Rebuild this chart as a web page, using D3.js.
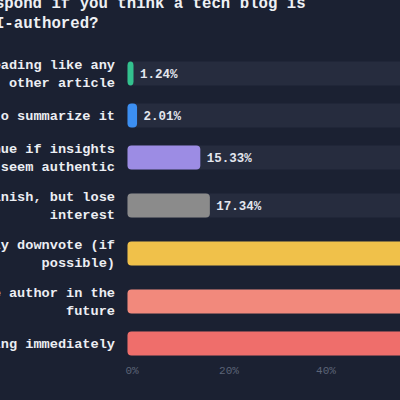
<!DOCTYPE html>
<html>
<head>
<meta charset="utf-8">
<script src="https://cdn.jsdelivr.net/npm/d3@7"></script>
<style>
  html, body { margin: 0; padding: 0; background: #1b2132; overflow: hidden; }
  svg { display: block; }
</style>
</head>
<body>
<svg id="chart" width="400" height="400"></svg>
<script>
// survey answers, top to bottom
const categories = [
  'Keep reading like any\nother article',
  'Use AI to summarize it',
  'Continue if insights\nseem authentic',
  'Try to finish, but lose\ninterest',
  'Immediately downvote (if\npossible)',
  'Avoid the author in the\nfuture',
  'Stop reading immediately'
];
const values = [1.24, 2.01, 15.33, 17.34, 60.1, 63.9, 68.6];
const barColors = ['#33c18e', '#3c8ff2', '#9c8ce4', '#8b8b8b', '#f0c14a', '#f2897c', '#ef6e6b'];
const tickValues = [0, 20, 40, 60, 80, 100];
const titleLines = ['How do you typically respond if you think a tech blog is', 'AI-authored?'];

const svg = d3.select('#chart');
const mono = '"Liberation Mono", "Courier New", monospace';

// title
svg.append('g').selectAll('text').data(titleLines).join('text')
  .attr('x', 42)
  .attr('y', (d, i) => 8 + i * 19.5)
  .attr('text-anchor', 'middle')
  .attr('fill', '#eef0f4')
  .attr('font-family', mono)
  .attr('font-weight', 'bold')
  .attr('font-size', '15.7px')
  .text(d => d);

const x = d3.scaleLinear().domain([0, 100]).range([127.5, 602.5]);

// rows grow with the number of label lines (like a flex list)
const lineCount = categories.map(c => c.split('\n').length);
const rowH = lineCount.map(n => n > 1 ? 36 : 24);
const gap = 12;
const rowTop = [];
rowH.reduce((acc, h, i) => { rowTop[i] = acc; return acc + h + gap; }, 55.5);
const rowMid = rowTop.map((t, i) => t + rowH[i] / 2);
const barH = 24;

const rows = svg.append('g').selectAll('g.row')
  .data(categories.map((c, i) => ({ label: c, value: values[i], color: barColors[i], mid: rowMid[i] })))
  .join('g').classed('row', true);

// background track
rows.append('rect')
  .attr('x', x(0))
  .attr('y', d => d.mid - barH / 2)
  .attr('width', x(100) - x(0))
  .attr('height', barH)
  .attr('rx', 4)
  .attr('fill', '#262c3e');

rows.append('rect')
  .attr('x', x(0))
  .attr('y', d => d.mid - barH / 2)
  .attr('width', d => Math.max(6, x(d.value) - x(0)))
  .attr('height', barH)
  .attr('rx', 4)
  .attr('fill', d => d.color);

rows.append('text')
  .attr('x', d => x(0) + Math.max(6, x(d.value) - x(0)) + 6.5)
  .attr('y', d => d.mid)
  .attr('dy', '0.35em')
  .attr('fill', '#e3e6ee')
  .attr('font-family', mono)
  .attr('font-weight', 'bold')
  .attr('font-size', '12.5px')
  .text(d => d.value.toFixed(2) + '%');

// category labels, right aligned
rows.each(function (d) {
  const lines = d.label.split('\n');
  const lh = 17.7;
  const t = d3.select(this).append('text')
    .attr('text-anchor', 'end')
    .attr('fill', '#eceef3')
    .attr('font-family', mono)
    .attr('font-weight', 'bold')
    .attr('font-size', '13.6px');
  t.selectAll('tspan').data(lines).join('tspan')
    .attr('x', 115)
    .attr('y', (l, i) => d.mid + (i - (lines.length - 1) / 2) * lh)
    .attr('dy', '0.35em')
    .text(l => l);
});

// x axis (tick labels only)
const xAxisScale = d3.scaleLinear().domain([0, 100]).range([131.5, 616.5]);
const axis = svg.append('g')
  .attr('transform', 'translate(0,' + 363 + ')')
  .call(d3.axisBottom(xAxisScale).tickValues(tickValues).tickFormat(d => d + '%').tickSize(0));
axis.select('.domain').remove();
axis.selectAll('text')
  .attr('fill', '#5b6477')
  .attr('font-family', mono)
  .attr('font-size', '11px');
</script>
</body>
</html>
